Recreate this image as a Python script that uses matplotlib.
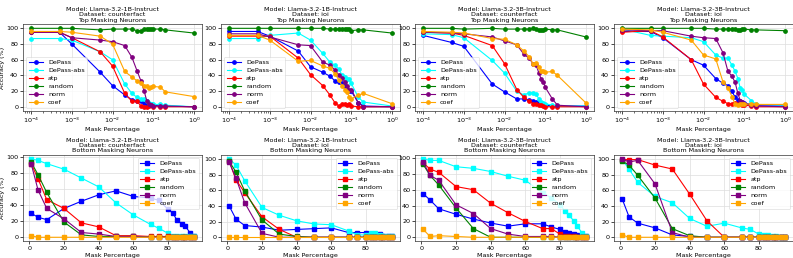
import matplotlib
matplotlib.use("Agg")

import matplotlib.pyplot as plt

# ---------------------------
# Data
# ---------------------------
METHODS = ["DePass", "DePass-abs", "atp", "random", "norm", "coef"]
COLORS = {"DePass": "blue", "DePass-abs": "cyan", "atp": "red",
          "random": "green", "norm": "purple", "coef": "orange"}

# mask fractions for top masking (log x axis)
top_x = [1e-4, 5e-4, 1e-3, 5e-3, 1e-2, 2e-2, 3e-2, 4e-2, 5e-2, 6e-2,
         7e-2, 8e-2, 9e-2, 1e-1, 1.5e-1, 2e-1, 1.0]
# mask percentages for bottom masking
bottom_x = [1, 5, 10, 20, 30, 40, 50, 60, 70, 75, 80, 83, 85, 88, 90, 93, 95]

top_1b_cf = {
    "DePass":     [95, 95, 80, 44, 27, 15, 9, 8, 7, 5, 4, 3, 3, 2, 1, 1, 0],
    "DePass-abs": [87, 87, 85, 70, 60, 29, 17, 12, 10, 10, 8, 5, 4, 3, 3, 2, 0],
    "atp":        [95, 95, 88, 70, 52, 17, 7, 7, 1, 0, 0, 1, 2, 0, 0, 0, 0],
    "random":     [100, 100, 100, 98, 99, 99, 99, 97, 97, 99, 99, 99, 99, 99, 99, 98, 94],
    "norm":       [95, 95, 88, 85, 83, 78, 63, 46, 33, 20, 7, 3, 2, 1, 1, 1, 0],
    "coef":       [96, 96, 95, 90, 80, 45, 38, 33, 30, 27, 27, 24, 25, 26, 25, 19, 13],
}
top_1b_ioi = {
    "DePass":     [96, 96, 90, 71, 51, 44, 39, 33, 31, 30, 27, 22, 20, 20, 5, 1, 0],
    "DePass-abs": [87, 87, 91, 94, 85, 68, 57, 53, 48, 40, 38, 35, 35, 30, 12, 6, 1],
    "atp":        [90, 90, 90, 62, 41, 27, 15, 5, 1, 3, 4, 2, 4, 1, 0, 0, 0],
    "random":     [100, 100, 100, 100, 100, 100, 99, 99, 99, 99, 99, 99, 99, 97, 98, 98, 94],
    "norm":       [93, 93, 89, 79, 78, 57, 53, 47, 40, 37, 32, 27, 21, 22, 5, 0, 0],
    "coef":       [91, 91, 85, 58, 59, 52, 49, 42, 34, 26, 22, 19, 12, 10, 15, 17, 4],
}
top_3b_cf = {
    "DePass":     [91, 82, 77, 29, 19, 10, 10, 9, 8, 6, 5, 4, 3, 2, 1, 1, 1],
    "DePass-abs": [93, 92, 88, 59, 43, 20, 15, 18, 18, 16, 10, 6, 5, 4, 2, 1, 1],
    "atp":        [95, 94, 91, 78, 55, 22, 12, 7, 4, 3, 2, 2, 1, 0, 0, 0, 0],
    "random":     [100, 100, 99, 100, 99, 99, 99, 99, 100, 99, 98, 98, 98, 99, 98, 98, 89],
    "norm":       [95, 94, 93, 89, 84, 79, 67, 62, 55, 53, 43, 35, 32, 25, 10, 2, 0],
    "coef":       [96, 95, 94, 87, 86, 79, 71, 64, 55, 56, 51, 46, 46, 44, 45, 40, 5],
}
top_3b_ioi = {
    "DePass":     [96, 96, 88, 60, 53, 36, 30, 27, 20, 12, 9, 7, 6, 5, 3, 2, 2],
    "DePass-abs": [99, 91, 90, 88, 83, 66, 62, 62, 53, 45, 36, 24, 21, 16, 8, 3, 2],
    "atp":        [95, 97, 89, 60, 29, 12, 7, 4, 4, 5, 3, 3, 2, 2, 1, 0, 0],
    "random":     [100, 100, 100, 100, 100, 99, 99, 99, 99, 99, 98, 98, 99, 99, 98, 98, 97],
    "norm":       [98, 97, 97, 90, 88, 87, 69, 45, 39, 31, 17, 8, 6, 4, 2, 1, 0],
    "coef":       [99, 98, 95, 85, 66, 61, 32, 24, 13, 3, 2, 3, 3, 3, 4, 3, 3],
}

bottom_1b_cf = {
    "DePass":     [30, 25, 22, 36, 45, 53, 58, 51, 49, 46, 35, 30, 22, 17, 14, 5, 2],
    "DePass-abs": [98, 96, 92, 85, 74, 63, 43, 28, 16, 11, 5, 2, 2, 2, 2, 1, 1],
    "atp":        [92, 73, 47, 36, 18, 13, 2, 2, 1, 1, 1, 0, 0, 0, 0, 0, 0],
    "random":     [94, 78, 56, 19, 3, 1, 1, 1, 0, 0, 0, 0, 0, 0, 0, 0, 0],
    "norm":       [92, 59, 36, 23, 6, 4, 1, 1, 0, 0, 0, 0, 0, 0, 0, 0, 0],
    "coef":       [2, 0, 0, 0, 0, 0, 0, 0, 0, 0, 0, 0, 0, 0, 0, 0, 0],
}
bottom_1b_ioi = {
    "DePass":     [40, 23, 15, 13, 9, 10, 11, 12, 6, 6, 6, 4, 4, 4, 2, 1, 1],
    "DePass-abs": [100, 92, 72, 38, 28, 21, 17, 16, 8, 3, 3, 5, 5, 3, 2, 1, 1],
    "atp":        [97, 73, 57, 26, 10, 0, 0, 0, 0, 0, 0, 0, 0, 0, 0, 0, 0],
    "random":     [97, 83, 59, 22, 4, 1, 0, 0, 0, 0, 0, 0, 0, 0, 0, 0, 0],
    "norm":       [96, 75, 44, 5, 0, 0, 0, 0, 0, 0, 0, 0, 0, 0, 0, 0, 0],
    "coef":       [0, 0, 0, 0, 0, 0, 0, 0, 0, 0, 0, 0, 0, 0, 0, 0, 0],
}
bottom_3b_cf = {
    "DePass":     [55, 47, 36, 29, 23, 18, 14, 17, 17, 13, 10, 7, 5, 4, 3, 1, 1],
    "DePass-abs": [99, 97, 97, 89, 87, 83, 77, 72, 56, 50, 41, 33, 28, 21, 14, 5, 1],
    "atp":        [94, 86, 82, 64, 60, 43, 31, 20, 11, 11, 4, 2, 1, 1, 0, 0, 0],
    "random":     [92, 78, 66, 37, 11, 0, 0, 0, 0, 0, 0, 0, 0, 0, 0, 0, 0],
    "norm":       [95, 78, 72, 41, 30, 11, 4, 1, 1, 1, 0, 0, 0, 0, 0, 0, 0],
    "coef":       [10, 1, 2, 1, 0, 0, 0, 0, 0, 0, 0, 0, 0, 0, 0, 0, 0],
}
bottom_3b_ioi = {
    "DePass":     [49, 26, 18, 12, 3, 1, 0, 0, 0, 0, 0, 0, 0, 0, 0, 0, 0],
    "DePass-abs": [99, 87, 70, 52, 44, 24, 14, 18, 12, 10, 4, 3, 3, 1, 1, 0, 0],
    "atp":        [99, 99, 99, 92, 87, 55, 21, 0, 0, 0, 0, 0, 0, 0, 0, 0, 0],
    "random":     [97, 92, 79, 50, 11, 2, 0, 0, 0, 0, 0, 0, 0, 0, 0, 0, 0],
    "norm":       [100, 96, 98, 68, 6, 0, 0, 0, 0, 0, 0, 0, 0, 0, 0, 0, 0],
    "coef":       [3, 0, 0, 0, 0, 0, 0, 0, 0, 0, 0, 0, 0, 0, 0, 0, 0],
}

PANEL_TITLES = [
    ("Llama-3.2-1B-Instruct", "counterfact"),
    ("Llama-3.2-1B-Instruct", "ioi"),
    ("Llama-3.2-3B-Instruct", "counterfact"),
    ("Llama-3.2-3B-Instruct", "ioi"),
]
TOP_DATA = [top_1b_cf, top_1b_ioi, top_3b_cf, top_3b_ioi]
BOTTOM_DATA = [bottom_1b_cf, bottom_1b_ioi, bottom_3b_cf, bottom_3b_ioi]

# ---------------------------
# Plotting
# ---------------------------
FS = 4.6
plt.rcParams["font.size"] = FS

fig = plt.figure(figsize=(7.93, 2.58), dpi=100)

# axes placement in pixels (left edge), shared width/height
lefts_px = [23, 221, 415, 614]
W, H = 179 / 793, 86.3 / 258
top_bottom = 1 - 110.7 / 258
bot_bottom = 1 - 241.2 / 258


def style_axes(ax):
    ax.grid(True, color="#dddddd", linewidth=0.5)
    ax.set_axisbelow(True)
    ax.tick_params(labelsize=FS, length=2, width=0.5, pad=1.5)
    ax.tick_params(which="minor", length=1.2, width=0.4)
    for s in ax.spines.values():
        s.set_linewidth(0.5)
        s.set_color("#333333")
    ax.set_yticks([0, 20, 40, 60, 80, 100])
    ax.set_xlabel("Mask Percentage", fontsize=FS, labelpad=1.5)


def add_legend(ax, loc):
    leg = ax.legend(loc=loc, fontsize=FS, frameon=True, framealpha=0.8,
                    handlelength=2.2, borderpad=0.4, labelspacing=0.4,
                    edgecolor="#cccccc")
    leg.get_frame().set_linewidth(0.4)


for i, (model, dataset) in enumerate(PANEL_TITLES):
    left = lefts_px[i] / 793

    # top masking (log scale)
    ax = fig.add_axes([left, top_bottom, W, H])
    for m in METHODS:
        ax.plot(top_x, TOP_DATA[i][m], marker="o", color=COLORS[m],
                linewidth=0.8, markersize=2.4, label=m)
    ax.set_xscale("log")
    ax.set_title(f"Model: {model}\nDataset: {dataset}\nTop Masking Neurons",
                 fontsize=FS, pad=2, linespacing=1.05)
    style_axes(ax)
    if i == 0:
        ax.set_ylabel("Accuracy (%)", fontsize=FS, labelpad=1)
    add_legend(ax, "lower left")

    # bottom masking (linear scale)
    ax = fig.add_axes([left, bot_bottom, W, H])
    for m in METHODS:
        ax.plot(bottom_x, BOTTOM_DATA[i][m], marker="s", color=COLORS[m],
                linewidth=0.8, markersize=2.5, label=m)
    ax.set_title(f"Model: {model}\nDataset: {dataset}\nBottom Masking Neurons",
                 fontsize=FS, pad=2, linespacing=1.05)
    style_axes(ax)
    ax.set_xticks([0, 20, 40, 60, 80])
    if i == 0:
        ax.set_ylabel("Accuracy (%)", fontsize=FS, labelpad=1)
    add_legend(ax, "upper right")

fig.savefig("out.png", dpi=100)
plt.close(fig)
